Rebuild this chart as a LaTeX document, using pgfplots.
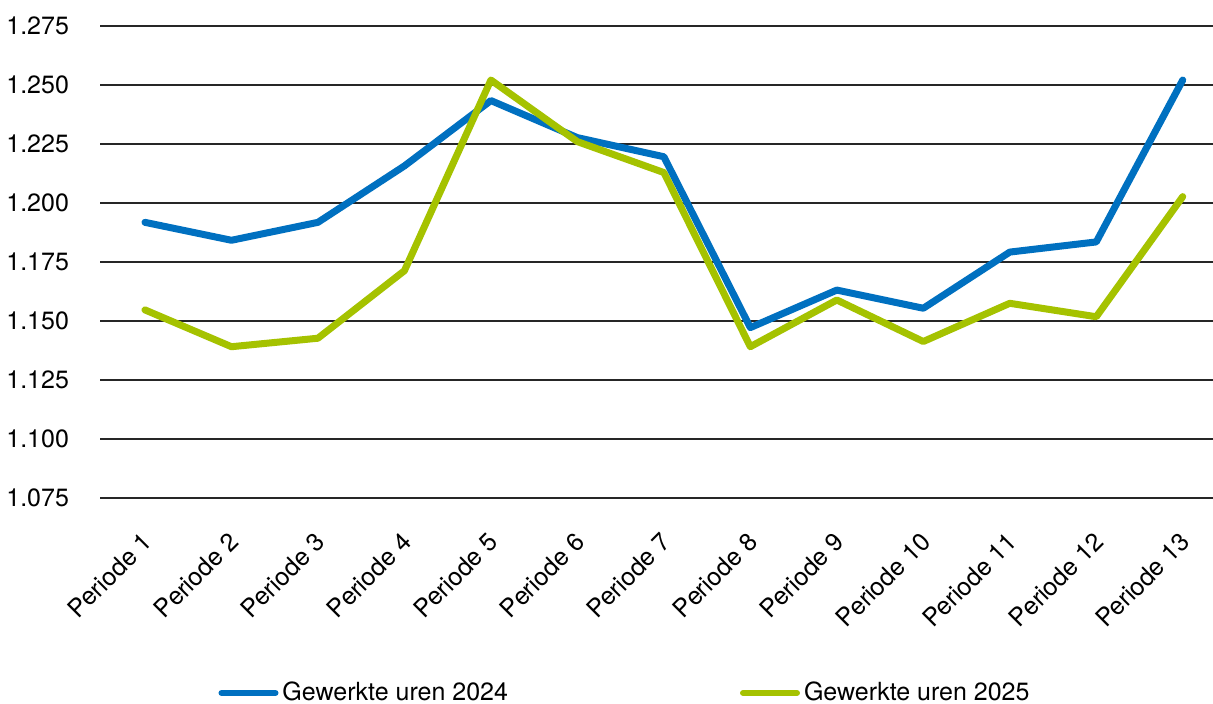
\documentclass[border=0pt]{standalone}
\usepackage{pgfplots}
\pgfplotsset{compat=1.18}
\usepackage{fontspec}
\setmainfont{TeX Gyre Heros}
\definecolor{cblue}{RGB}{0,112,192}
\definecolor{cgreen}{RGB}{165,194,0}
\begin{document}
\begin{tikzpicture}
\path[use as bounding box] (-50pt,-103pt) rectangle (556.5pt,249pt);
\begin{axis}[
  at={(0pt,0pt)}, anchor=south west,
  scale only axis, width=556.5pt, height=236pt,
  xmin=-0.52, xmax=12.35, ymin=1.075, ymax=1.275,
  ytick={1.075,1.1,1.125,1.15,1.175,1.2,1.225,1.25,1.275},
  scaled y ticks=false,
  xtick={0,...,12},
  xticklabels={Periode 1,Periode 2,Periode 3,Periode 4,Periode 5,Periode 6,Periode 7,Periode 8,Periode 9,Periode 10,Periode 11,Periode 12,Periode 13},
  axis line style={draw=none},
  major tick length=0pt,
  ymajorgrids, grid style={black!85, line width=0.75pt},
  font=\fontsize{12.5pt}{15pt}\selectfont,
  y tick label style={/pgf/number format/.cd, fixed, fixed zerofill, precision=3, 1000 sep={}, assume math mode=true, /tikz/.cd, anchor=east, xshift=-12pt},
  x tick label style={rotate=45, anchor=north east, inner sep=0pt, xshift=-13pt, yshift=-10pt},
  legend style={at={(0.4726,-0.413)}, anchor=center, draw=none, fill=none,
    legend columns=2, /tikz/every even column/.append style={column sep=114pt},
    font=\fontsize{12.5pt}{15pt}\selectfont, inner sep=0pt},
  legend cell align=left,
  legend image code/.code={\draw[#1, line width=3pt, line cap=round] (0pt,0pt) -- (27pt,0pt);},
  clip=false,
]
\addplot[cblue, line width=3.5pt, line join=round, line cap=round] coordinates {
(0,1.1918) (1,1.1842) (2,1.1918) (3,1.2157) (4,1.2434) (5,1.2277) (6,1.2196)
(7,1.1472) (8,1.1631) (9,1.1554) (10,1.1792) (11,1.1835) (12,1.2521)};
\addlegendentry{Gewerkte uren 2024}
\addplot[cgreen, line width=3.5pt, line join=round, line cap=round] coordinates {
(0,1.1547) (1,1.1391) (2,1.1427) (3,1.1713) (4,1.2521) (5,1.2260) (6,1.2129)
(7,1.1391) (8,1.1589) (9,1.1413) (10,1.1575) (11,1.1518) (12,1.2027)};
\addlegendentry{Gewerkte uren 2025}
\end{axis}
\end{tikzpicture}
\end{document}
